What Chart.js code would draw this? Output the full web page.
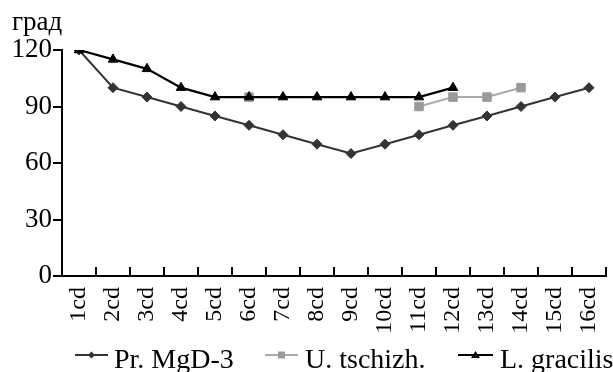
<!DOCTYPE html>
<html>
<head>
<meta charset="utf-8">
<script src="https://cdn.jsdelivr.net/npm/chart.js@4/dist/chart.umd.min.js"></script>
<style>
  html, body { margin: 0; padding: 0; background: #fff; }
  #wrap { width: 613px; height: 372px; }
</style>
</head>
<body>
<div id="wrap"><canvas id="c" width="613" height="372"></canvas></div>
<script>
const categories = ['1cd','2cd','3cd','4cd','5cd','6cd','7cd','8cd','9cd','10cd','11cd','12cd','13cd','14cd','15cd','16cd'];
const seriesNames = ['Pr. MgD-3', 'U. tschizh.', 'L. gracilis'];
const prMgD3   = [120, 100, 95, 90, 85, 80, 75, 70, 65, 70, 75, 80, 85, 90, 95, 100];
const uTschizh = [null, null, null, null, null, 95, null, null, null, null, 90, 95, 95, 100, null, null];
const lGracilis = [120, 115, 110, 100, 95, 95, 95, 95, 95, 95, 95, 100, null, null, null, null];
const yTicks = [0, 30, 60, 90, 120];
const yUnit = 'град';

const SERIF = '"Liberation Serif", "Times New Roman", serif';
const colors = ['#333333', '#9a9a9a', '#000000'];
const lineColors = ['#333333', '#aaaaaa', '#000000'];
const styles = ['rectRot', 'rect', 'triangle'];

const extras = {
  id: 'extras',
  afterDraw(chart) {
    const ctx = chart.ctx;
    ctx.save();
    ctx.fillStyle = '#000';
    ctx.font = '27px ' + SERIF;
    ctx.textBaseline = 'alphabetic';
    ctx.textAlign = 'left';
    ctx.fillText(yUnit, 12, 30);
    // legend
    const items = [[75, 108, 114], [265, 298, 305], [458, 493, 500]];
    const ly = 355;
    items.forEach((it, i) => {
      ctx.strokeStyle = lineColors[i];
      ctx.lineWidth = 2;
      ctx.beginPath();
      ctx.moveTo(it[0], ly);
      ctx.lineTo(it[1], ly);
      ctx.stroke();
      const cx = (it[0] + it[1]) / 2;
      ctx.fillStyle = colors[i];
      ctx.beginPath();
      if (styles[i] === 'rectRot') {
        ctx.moveTo(cx, ly - 3.5); ctx.lineTo(cx + 3.5, ly); ctx.lineTo(cx, ly + 3.5); ctx.lineTo(cx - 3.5, ly);
      } else if (styles[i] === 'rect') {
        ctx.rect(cx - 3.5, ly - 3.5, 7, 7);
      } else {
        ctx.moveTo(cx, ly - 4); ctx.lineTo(cx + 4.5, ly + 3); ctx.lineTo(cx - 4.5, ly + 3);
      }
      ctx.closePath();
      ctx.fill();
      ctx.fillStyle = '#000';
      ctx.font = '28px ' + SERIF;
      ctx.fillText(seriesNames[i], it[2], 368);
    });
    ctx.restore();
  }
};

const datasets = [
  { label: seriesNames[0], data: prMgD3, order: 2 },
  { label: seriesNames[1], data: uTschizh, order: 1 },
  { label: seriesNames[2], data: lGracilis, order: 0 }
].map((d, i) => Object.assign(d, {
  borderColor: lineColors[i],
  backgroundColor: colors[i],
  pointBackgroundColor: colors[i],
  pointBorderColor: colors[i],
  pointStyle: styles[i],
  pointRadius: i === 1 ? 6 : (i === 2 ? 5.5 : 5),
  pointBorderWidth: 1,
  borderWidth: i === 2 ? 2.2 : 2,
  tension: 0,
  spanGaps: false,
  fill: false
}));

new Chart(document.getElementById('c'), {
  type: 'line',
  data: { labels: categories, datasets },
  options: {
    responsive: false,
    animation: false,
    devicePixelRatio: 1,
    layout: { padding: { top: 50, left: 0, right: 2, bottom: 38 } },
    plugins: { legend: { display: false }, tooltip: { enabled: false }, title: { display: false } },
    scales: {
      x: {
        type: 'category',
        offset: true,
        grid: { offset: true, drawOnChartArea: false, drawTicks: true, tickLength: -9, color: '#000', lineWidth: 2 },
        border: { display: true, color: '#000', width: 2 },
        ticks: {
          autoSkip: false, maxRotation: 90, minRotation: 90, padding: 20,
          color: '#000', font: { family: SERIF, size: 24 }
        },
        afterFit(scale) { scale.height = 58; scale.paddingLeft = 0; scale.paddingRight = 0; }
      },
      y: {
        min: 0, max: 120,
        afterBuildTicks(scale) { scale.ticks = yTicks.map(v => ({ value: v })); },
        grid: { drawOnChartArea: false, drawTicks: true, tickLength: 9, color: '#000', lineWidth: 2 },
        border: { display: true, color: '#000', width: 2 },
        ticks: { padding: 1, color: '#000', font: { family: SERIF, size: 27 } },
        afterFit(scale) { scale.width = 62; scale.paddingTop = 0; scale.paddingBottom = 0; }
      }
    }
  },
  plugins: [extras]
});
</script>
</body>
</html>
